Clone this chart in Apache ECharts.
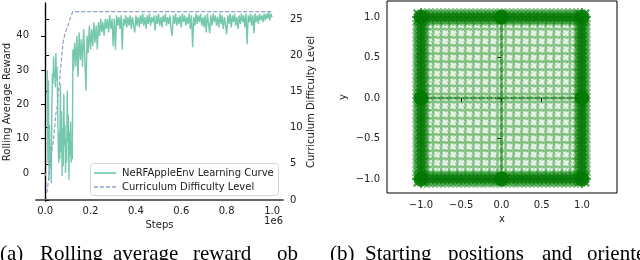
<!DOCTYPE html>
<html><head><meta charset="utf-8">
<script src="https://cdn.jsdelivr.net/npm/echarts@6/dist/echarts.min.js"></script>
<style>html,body{margin:0;padding:0;background:#fff}#c{width:640px;height:260px}</style>
</head><body><div id="c"></div>
<script>
// ---- data (steps in units of 1e6) ----
const rewardSteps = [0.01,0.0125,0.015,0.0175,0.02,0.0225,0.025,0.0275,0.03,0.0325,0.035,0.0375,0.04,0.0425,0.045,0.0475,0.05,0.0525,0.055,0.0575,0.06,0.0625,0.065,0.0675,0.07,0.0725,0.075,0.0775,0.08,0.0825,0.085,0.0875,0.09,0.0925,0.095,0.0975,0.1,0.1025,0.105,0.1075,0.11,0.1125,0.115,0.1175,0.12,0.1225,0.125,
0.13,0.135,0.14,0.145,0.15,0.155,0.16,0.165,0.17,0.175,0.18,0.185,0.19,0.195,0.2,0.205,0.21,0.215,0.22,0.225,0.23,0.235,0.24,0.245,0.25,0.255,0.26,0.265,0.27,0.275,0.28,0.285,0.29,0.295,
0.3,0.305,0.31,0.315,0.32,0.325,0.33,0.335,0.34,0.345,0.35,0.355,0.36,0.365,0.37,0.375,0.38,0.385,0.39,0.395,0.4,0.405,0.41,0.415,0.42,0.425,0.43,0.435,0.44,0.445,0.45,0.455,0.46,0.465,0.47,0.475,0.48,0.485,0.49,0.495,
0.5,0.505,0.51,0.515,0.52,0.525,0.53,0.535,0.54,0.545,0.55,0.555,0.56,0.565,0.57,0.575,0.58,0.585,0.59,0.595,0.6,0.605,0.61,0.615,0.62,0.625,0.63,0.635,0.64,0.645,0.65,0.655,0.66,0.665,0.67,0.675,0.68,0.685,0.69,0.695,
0.7,0.705,0.71,0.715,0.72,0.725,0.73,0.735,0.74,0.745,0.75,0.755,0.76,0.765,0.77,0.775,0.78,0.785,0.79,0.795,0.8,0.805,0.81,0.815,0.82,0.825,0.83,0.835,0.84,0.845,0.85,0.855,0.86,0.865,0.87,0.875,0.88,0.885,0.89,0.895,
0.9,0.905,0.91,0.915,0.92,0.925,0.93,0.935,0.94,0.945,0.95,0.955,0.96,0.965,0.97,0.975,0.98,0.985,0.99,0.995,1.0];
const rewardValues = [30,3,27,-2,14,2,8,-3,20,29,26,34,28,30,25,35,27,31,22,10,3,12,4,26,6,18,-1,13,2,23,8,14,0,10,3,24,9,17,-2,12,5,15,3,9,4,36,30,
38,31,40,28,41,33,39,31,42,34,24,40,35,43,36,42,37,44,38,43,36,44,40,45,41,44,40,45,42,45,41,46,42,45,
37,45,36,46,43,45.5,42,46,36,45,43,46,42.5,45.5,43,46,42,45.5,43,41,46,43,45.5,42.5,46,43.5,46.5,43,45.5,42,46,43.5,46.5,43,45.5,44,46,41.5,46,43.5,
46.5,43,45.5,42.5,46,44,46.5,43,45.5,43.5,46,42,40,46,43.5,46.5,43,45.5,43.5,46,42.5,46.5,44,46,43,45.5,43.5,46.5,42,46,36.7,45.5,43,46.5,43.5,46,44,46.5,43,45.5,
42.5,46,41,46.5,43.5,40.8,46,43,46.5,44,46,43,45.5,42.5,46.5,43.5,46,42,45.5,43,40.5,46,43.5,46.5,42.5,46,44,46.5,43,45.5,42,46,43.5,46.5,44,46,42.5,46.5,37.6,46,
44,46.5,43,46,40.8,46.5,44,46,43.5,46.5,44.5,46,44,46.5,44.5,46.5,45,47,44.5,46.5,45.5];
const curriculumSteps = [0.008,0.012,0.016,0.02,0.024,0.03,0.036,0.042,0.048,0.054,0.058,0.063,0.068,0.074,0.08,0.088,0.1,0.11,0.122,1.0];
const curriculumLevels = [1,2,3,4,5,7,8,10,12,13,15,16,18,20,22,23,24,25,26,26];
const stepTicks = [0,0.2,0.4,0.6,0.8,1.0];
const rewardTicks = [0,10,20,30,40];
const levelTicks = [0,5,10,15,20,25];
const posTicks = [-1,-0.5,0,0.5,1];
const gridCoords = [-1,-0.9,-0.8,-0.7,-0.6,-0.5,-0.4,-0.3,-0.2,-0.1,0,0.1,0.2,0.3,0.4,0.5,0.6,0.7,0.8,0.9,1];
const edgeCoords = [-1,-0.95,-0.9,-0.85,-0.8,-0.75,-0.7,-0.65,-0.6,-0.55,-0.5,-0.45,-0.4,-0.35,-0.3,-0.25,-0.2,-0.15,-0.1,-0.05,0,0.05,0.1,0.15,0.2,0.25,0.3,0.35,0.4,0.45,0.5,0.55,0.6,0.65,0.7,0.75,0.8,0.85,0.9,0.95,1];
const nodePoints = [[-1,-1],[-1,0],[-1,1],[0,-1],[0,1],[1,-1],[1,0],[1,1]];
const legendNames = ['NeRFAppleEnv Learning Curve','Curriculum Difficulty Level'];
const captionA = ['(a)','Rolling','average','reward','ob'];
const captionB = ['(b)','Starting','positions','and','oriente'];

// ---- build series data ----
const rewardData = rewardSteps.map((s,i)=>[s,rewardValues[i]]);
const currData = curriculumSteps.map((s,i)=>[s,curriculumLevels[i]]);
const interior = [];
gridCoords.forEach(x=>gridCoords.forEach(y=>interior.push([x,y])));
const edges = [];
edgeCoords.forEach(v=>{edges.push([v,1]);edges.push([v,-1]);edges.push([1,v]);edges.push([-1,v]);});
const crossV = edgeCoords.map(v=>[0,v]);
const crossH = edgeCoords.map(v=>[v,0]);

const FONT = 'DejaVu Sans';
const FS = 10;
const XSYM = 'path://M0,1L1,0L5,4L9,0L10,1L6,5L10,9L9,10L5,6L1,10L0,9L4,5Z';
const RING = 'path://M10,5L8.54,8.54L5,10L1.46,8.54L0,5L1.46,1.46L5,0L8.54,1.46ZM8.3,5L7.33,2.67L5,1.7L2.67,2.67L1.7,5L2.67,7.33L5,8.3L7.33,7.33Z';
const fmtMinus = v => (v<0?'\u2212':'') + Math.abs(v).toFixed(1);
const lbl = () => ({fontFamily:FONT,fontSize:FS,color:'#222'});

const chart = echarts.init(document.getElementById('c'), null, {renderer:'canvas'});
const captionFont = '21px "Liberation Serif"';
const capXA = [0,40,113,193,277];
const capXB = [330,365,448,542,587];
const graphic = [];
captionA.forEach((w,i)=>graphic.push({type:'text',x:capXA[i],y:265,style:{text:w,font:captionFont,fill:'#000',verticalAlign:'bottom'}}));
captionB.forEach((w,i)=>graphic.push({type:'text',x:capXB[i],y:265,style:{text:w,font:captionFont,fill:'#000',verticalAlign:'bottom'}}));
graphic.push({type:'text',x:283,y:221,style:{text:'1e6',font:FS+'px "DejaVu Sans"',fill:'#222',align:'right',verticalAlign:'middle'}});
// legend box (manual, to draw plain line samples)
graphic.push({type:'rect',shape:{x:90.5,y:163.5,width:188,height:32,r:3},style:{fill:'rgba(255,255,255,0.8)',stroke:'#d4d4d4',lineWidth:1},z:50});
graphic.push({type:'line',shape:{x1:94,y1:173,x2:116,y2:173},style:{stroke:'#66c2a5',lineWidth:1.5},z:51});
graphic.push({type:'line',shape:{x1:94,y1:187,x2:116,y2:187},style:{stroke:'#8da0cb',lineWidth:1.5,lineDash:[4,2]},z:51});
graphic.push({type:'text',x:122,y:173,style:{text:legendNames[0],font:FS+'px "DejaVu Sans"',fill:'#222',verticalAlign:'middle'},z:51});
graphic.push({type:'text',x:122,y:187,style:{text:legendNames[1],font:FS+'px "DejaVu Sans"',fill:'#222',verticalAlign:'middle'},z:51});

chart.setOption({
  animation:false,
  backgroundColor:'#fff',
  grid:[
    {left:36,top:3,width:247,height:198},
    {left:387,top:1,width:230,height:192,show:true,borderColor:'#000',borderWidth:1,backgroundColor:'transparent'}
  ],
  xAxis:[
    {type:'value',gridIndex:0,min:-0.04,max:1.048,
     name:'Steps',nameLocation:'middle',nameGap:15,nameTextStyle:lbl(),
     axisLine:{show:false},splitLine:{show:false},
     axisTick:{show:true,customValues:stepTicks,length:3,lineStyle:{color:'#888'}},
     axisLabel:{customValues:stepTicks,formatter:v=>v.toFixed(1),margin:5,...lbl()}},
    {type:'value',gridIndex:0,position:'top',min:-0.04,max:1.048,
     axisLine:{show:true,lineStyle:{color:'#666',width:2}},axisTick:{show:false},axisLabel:{show:false},splitLine:{show:false}},
    {type:'value',gridIndex:1,min:-1.4224,max:1.435,
     name:'x',nameLocation:'middle',nameGap:21,nameTextStyle:lbl(),
     axisLine:{show:false},splitLine:{show:false},
     axisTick:{show:true,customValues:posTicks,length:4,lineStyle:{color:'#000'}},
     axisLabel:{customValues:posTicks,formatter:fmtMinus,margin:7,...lbl()}}
  ],
  yAxis:[
    {type:'value',gridIndex:0,min:-8.2,max:49.6,position:'left',
     name:'Rolling Average Reward',nameLocation:'middle',nameGap:22,nameRotate:90,nameTextStyle:lbl(),
     axisLine:{show:true,lineStyle:{color:'#000',width:1.2}},splitLine:{show:false},
     axisTick:{show:true,customValues:rewardTicks,length:4,lineStyle:{color:'#000'}},
     axisLabel:{customValues:rewardTicks,margin:7,...lbl()}},
    {type:'value',gridIndex:0,min:-0.14,max:27.2,position:'right',
     name:'Curriculum Difficulty Level',nameLocation:'middle',nameGap:20,nameRotate:90,nameTextStyle:lbl(),
     axisLine:{show:true,lineStyle:{color:'#000',width:1.2}},splitLine:{show:false},
     axisTick:{show:true,customValues:levelTicks,length:4,lineStyle:{color:'#000'}},
     axisLabel:{customValues:levelTicks,margin:7,...lbl()}},
    {type:'value',gridIndex:1,min:-1.173,max:1.1975,
     name:'y',nameLocation:'middle',nameGap:39,nameRotate:90,nameTextStyle:lbl(),
     axisLine:{show:false},splitLine:{show:false},
     axisTick:{show:true,customValues:posTicks,length:4,lineStyle:{color:'#000'}},
     axisLabel:{customValues:posTicks,formatter:fmtMinus,margin:7,...lbl()}}
  ],
  series:[
    {name:legendNames[0],type:'line',xAxisIndex:0,yAxisIndex:0,data:rewardData,showSymbol:false,symbol:'none',
     lineStyle:{color:'#66c2a5',width:1.4,opacity:0.9},itemStyle:{color:'#66c2a5'},sampling:null,z:2},
    {name:legendNames[1],type:'line',xAxisIndex:0,yAxisIndex:1,data:currData,showSymbol:false,symbol:'none',
     lineStyle:{color:'#8da0cb',width:1.2,type:[4,2]},itemStyle:{color:'#8da0cb'},z:3},
    {type:'scatter',xAxisIndex:2,yAxisIndex:2,data:interior,symbol:RING,symbolSize:12,
     itemStyle:{color:'#008000',opacity:0.28},silent:true},
    {type:'scatter',xAxisIndex:2,yAxisIndex:2,data:interior,symbol:XSYM,symbolSize:14,symbolRotate:22.5,
     itemStyle:{color:'#008000',opacity:0.11},silent:true},
    {type:'scatter',xAxisIndex:2,yAxisIndex:2,data:crossV,symbol:'rect',symbolSize:[2.5,5],
     itemStyle:{color:'#007000',opacity:0.55},silent:true},
    {type:'scatter',xAxisIndex:2,yAxisIndex:2,data:crossH,symbol:'rect',symbolSize:[5,2.5],
     itemStyle:{color:'#007000',opacity:0.55},silent:true},
    {type:'scatter',xAxisIndex:2,yAxisIndex:2,data:edges,symbol:XSYM,symbolSize:16,
     itemStyle:{color:'#008000',opacity:0.45},silent:true},
    {type:'scatter',xAxisIndex:2,yAxisIndex:2,data:edges,symbol:XSYM,symbolSize:14,symbolRotate:45,
     itemStyle:{color:'#008000',opacity:0.45},silent:true},
    {type:'scatter',xAxisIndex:2,yAxisIndex:2,data:edges,symbol:'circle',symbolSize:9,
     itemStyle:{color:'#0a780a',opacity:0.6},silent:true},
    {type:'scatter',xAxisIndex:2,yAxisIndex:2,data:nodePoints,symbol:'circle',symbolSize:15,
     itemStyle:{color:'#007800',opacity:0.85},silent:true}
  ],
  graphic:graphic
});
</script></body></html>
